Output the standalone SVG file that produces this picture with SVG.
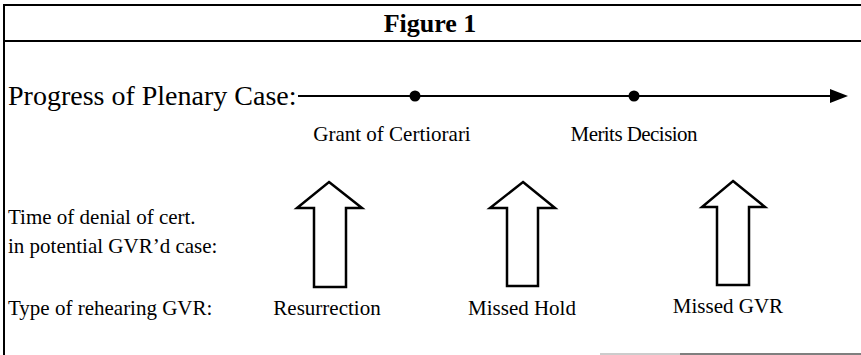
<svg xmlns="http://www.w3.org/2000/svg" width="861" height="355" viewBox="0 0 861 355">
<style>
text{font-family:"Liberation Serif","Times New Roman","DejaVu Serif",serif;fill:#000}
.lbl{font-size:21px}
.big{font-size:28px}
.title{font-size:26px;font-weight:bold}
.frame{stroke:#000;stroke-width:2;fill:none}
.blk{stroke:#000;stroke-width:2.5;fill:#fff;stroke-linejoin:miter}
</style>
<g id="frame">
<line class="frame" x1="4" y1="5" x2="861" y2="5"/>
<line class="frame" x1="4" y1="41" x2="861" y2="41"/>
<line class="frame" x1="4" y1="4" x2="4" y2="355"/>
<line x1="600" y1="354" x2="680" y2="354" stroke="#bbb" stroke-width="1.5"/>
<line x1="680" y1="354" x2="861" y2="354" stroke="#555" stroke-width="1.5"/>
<text class="title" x="430" y="32" text-anchor="middle">Figure 1</text>
</g>
<g id="labels">
<text class="big" x="8" y="105">Progress of Plenary Case:</text>
<text class="lbl" x="8" y="224">Time of denial of cert.</text>
<text class="lbl" x="8" y="253">in potential GVR’d case:</text>
<text class="lbl" x="8" y="315">Type of rehearing GVR:</text>
</g>
<g id="connectors">
<line x1="298" y1="96" x2="834" y2="96" stroke="#000" stroke-width="2"/>
<polygon points="830,89 848,96 830,103" fill="#000"/>
</g>
<g id="grant">
<circle cx="415" cy="96" r="5.5" fill="#000"/>
<text class="lbl" x="392" y="141" text-anchor="middle">Grant of Certiorari</text>
</g>
<g id="merits">
<circle cx="634" cy="96" r="5.5" fill="#000"/>
<text class="lbl" x="634" y="141" text-anchor="middle" textLength="127">Merits Decision</text>
</g>
<g id="resurrection">
<polygon class="blk" points="329,182 362,208 346,208 346,287 314,287 314,208 297,208"/>
<text class="lbl" x="327" y="315" text-anchor="middle">Resurrection</text>
</g>
<g id="missed-hold">
<polygon class="blk" points="523,182 555,208 538,208 538,286 507,286 507,208 490,208"/>
<text class="lbl" x="522" y="315" text-anchor="middle">Missed Hold</text>
</g>
<g id="missed-gvr">
<polygon class="blk" points="733,181 765,207 749,207 749,285 717,285 717,207 702,207"/>
<text class="lbl" x="728" y="313" text-anchor="middle">Missed GVR</text>
</g>
</svg>
